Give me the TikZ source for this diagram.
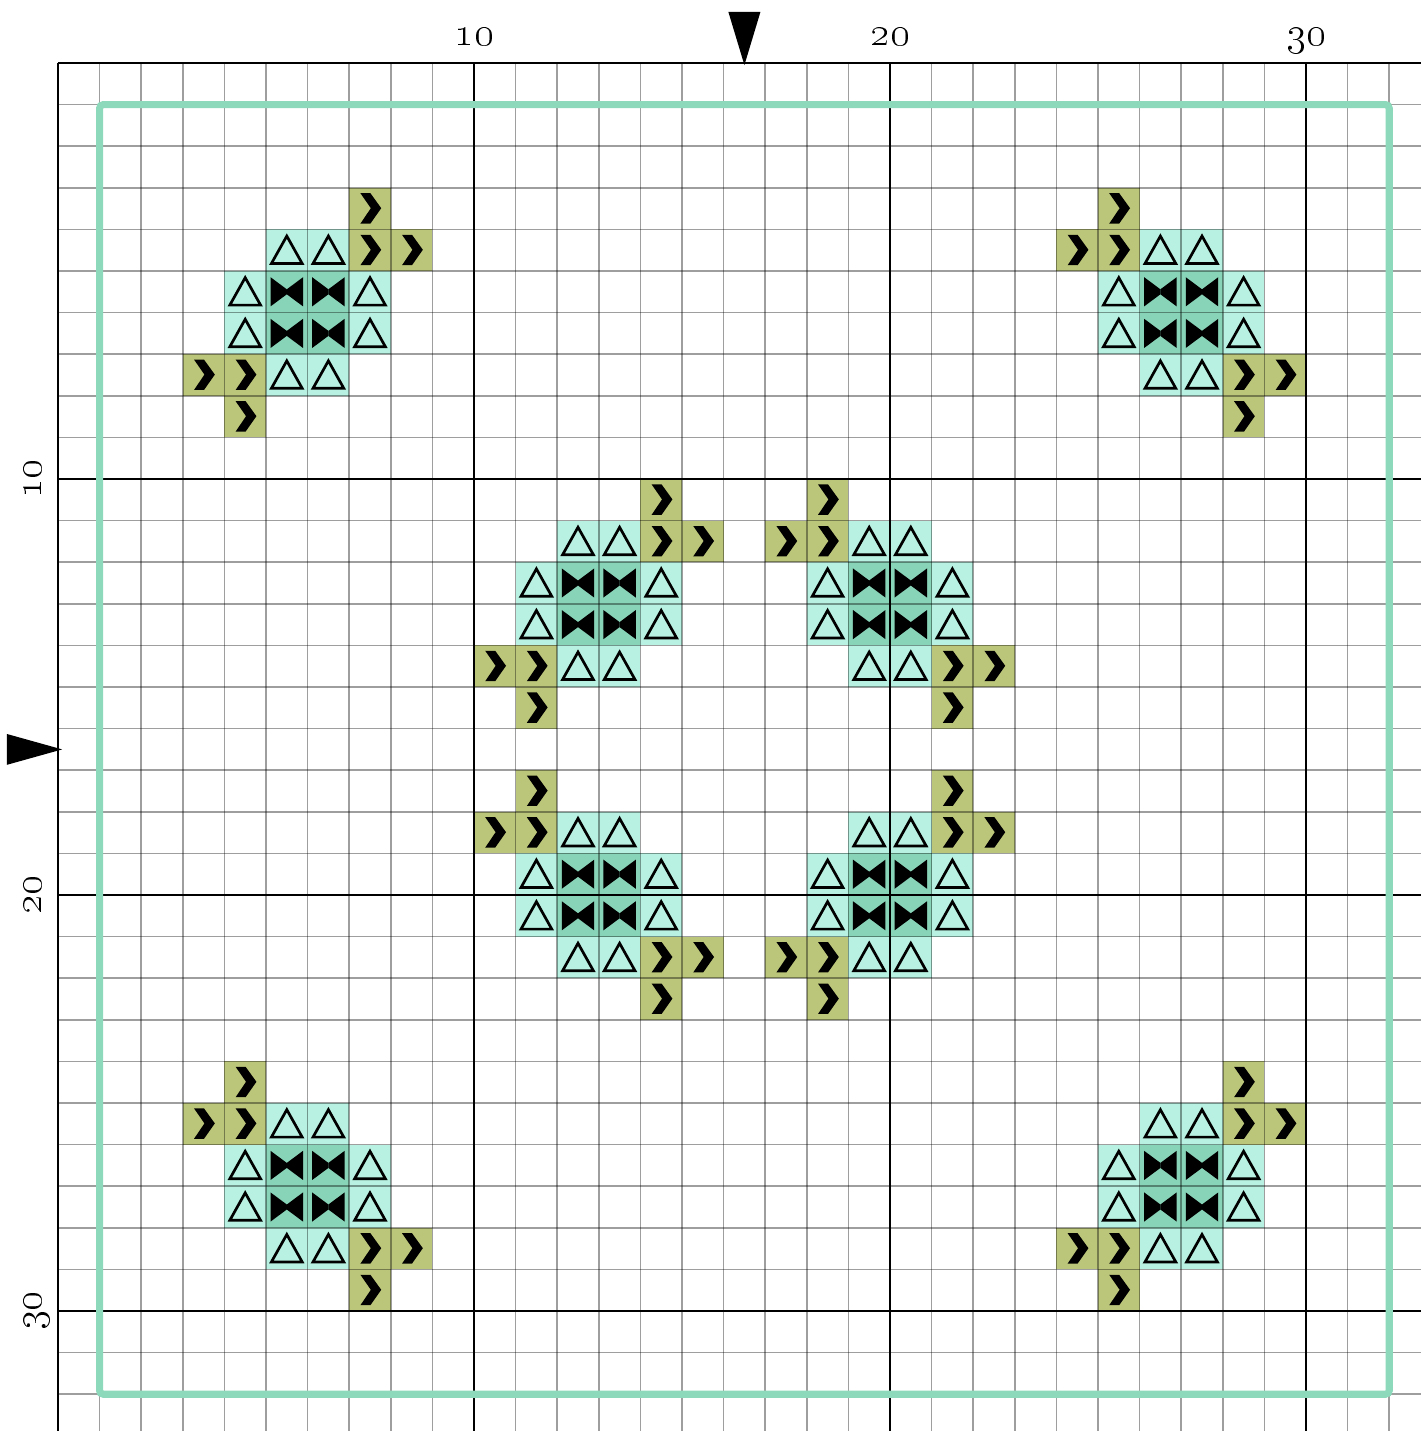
\documentclass[tikz,border=0pt]{standalone}
\definecolor{chevfill}{HTML}{BCC67A}
\definecolor{trifill}{HTML}{B8F1E1}
\definecolor{bowfill}{HTML}{88D4B8}
\definecolor{bordergreen}{HTML}{8CD9BC}
\tikzset{
  gridthin/.style={line width=0.6pt, draw=black, draw opacity=0.38},
  gridthick/.style={line width=1.1pt, draw=black},
  lab/.style={font=\fontsize{19}{22}\selectfont, inner sep=0pt},
  pics/chevcell/.style={code={
    \fill[chevfill] (0,0) rectangle (1,-1);
    \fill[black] (0.27,-0.13) -- (0.51,-0.13) -- (0.77,-0.49) -- (0.51,-0.86) -- (0.27,-0.86) -- (0.52,-0.49) -- cycle;
  }},
  pics/tricell/.style={code={
    \fill[trifill] (0,0) rectangle (1,-1);
    \draw[line width=1.1pt, line join=miter] (0.5,-0.16) -- (0.13,-0.82) -- (0.87,-0.82) -- cycle;
  }},
  pics/bowcell/.style={code={
    \fill[bowfill] (0,0) rectangle (1,-1);
    \fill[black] (0.11,-0.15) -- (0.5,-0.44) -- (0.5,-0.56) -- (0.11,-0.85) -- cycle;
    \fill[black] (0.89,-0.15) -- (0.5,-0.44) -- (0.5,-0.56) -- (0.89,-0.85) -- cycle;
  }}
}
\begin{document}
\begin{tikzpicture}[x=0.6cm,y=0.6cm]
\useasboundingbox (-1.3942,1.5144) rectangle (32.7644,-32.8846);
% motif A (chevrons upper-right / lower-left)
\foreach \ox/\oy in {0/0,7/7,14/14,21/21} {
  \foreach \c/\r in {7/3,7/4,8/4,3/7,4/7,4/8}
    \pic at ({\c+\ox},{-\r-\oy}) {chevcell};
  \foreach \c/\r in {5/4,6/4,4/5,7/5,4/6,7/6,5/7,6/7}
    \pic at ({\c+\ox},{-\r-\oy}) {tricell};
  \foreach \c/\r in {5/5,6/5,5/6,6/6}
    \pic at ({\c+\ox},{-\r-\oy}) {bowcell};
}
% motif B (chevrons upper-left / lower-right)
\foreach \ox/\oy in {0/0,-7/7,-14/14,-21/21} {
  \foreach \c/\r in {25/3,24/4,25/4,28/7,29/7,28/8}
    \pic at ({\c+\ox},{-\r-\oy}) {chevcell};
  \foreach \c/\r in {26/4,27/4,25/5,28/5,25/6,28/6,26/7,27/7}
    \pic at ({\c+\ox},{-\r-\oy}) {tricell};
  \foreach \c/\r in {26/5,27/5,26/6,27/6}
    \pic at ({\c+\ox},{-\r-\oy}) {bowcell};
}
% grid
\foreach \i in {1,...,32} {
  \draw[gridthin] (\i,0) -- (\i,-32.8846);
  \draw[gridthin] (0,-\i) -- (32.7644,-\i);
}
\foreach \i in {0,10,20,30} {
  \draw[gridthick] (\i,0) -- (\i,-32.8846);
  \draw[gridthick] (0,-\i) -- (32.7644,-\i);
}
% border
\draw[line width=2.9pt, draw=bordergreen, rounded corners=1.5pt] (1,-1) rectangle (32,-32);
% centre markers
\fill[black] (16.115,1.226) -- (16.885,1.226) -- (16.5,-0.05) -- cycle;
\fill[black] (-1.226,-16.13) -- (-1.226,-16.87) -- (0.1,-16.5) -- cycle;
% labels
\node[lab, anchor=base] (t10) at (10,0.42) {\oldstylenums{10}};
\node[lab, anchor=base] (t20) at (20,0.42) {\oldstylenums{20}};
\node[lab, anchor=base] (t30) at (30,0.42) {\oldstylenums{30}};
\node[lab, rotate=90, anchor=base] (l10) at (-0.4,-10) {\oldstylenums{10}};
\node[lab, rotate=90, anchor=base] (l20) at (-0.4,-20) {\oldstylenums{20}};
\node[lab, rotate=90, anchor=base] (l30) at (-0.4,-30) {\oldstylenums{30}};
\end{tikzpicture}
\end{document}
